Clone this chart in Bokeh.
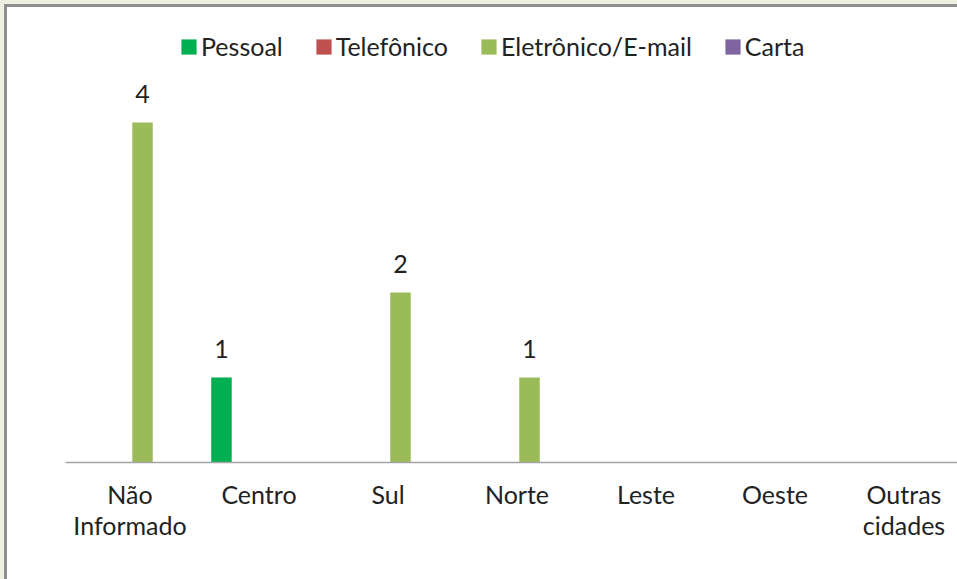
from bokeh.plotting import figure
from bokeh.models import Range1d, FixedTicker, ColumnDataSource, Legend, LegendItem
from bokeh.embed import file_html
from bokeh.resources import INLINE
from bokeh.core.properties import value
import numpy as np

# ---- data ----
categories = ["Não\nInformado", "Centro", "Sul", "Norte", "Leste", "Oeste", "Outras\ncidades"]
series_names = ["Pessoal", "Telefônico", "Eletrônico/E-mail", "Carta"]
pessoal = [0, 1, 0, 0, 0, 0, 0]
telefonico = [0, 0, 0, 0, 0, 0, 0]
eletronico = [4, 0, 2, 1, 0, 0, 0]
carta = [0, 0, 0, 0, 0, 0, 0]
colors = ["#00B050", "#C0504D", "#9BBB59", "#8064A2"]

series_values = [pessoal, telefonico, eletronico, carta]

# ---- layout ----
W, H = 957, 579
left, bottom = 65, 117
px_per_cat = 129.0
px_per_unit = 85.0
frame_w = W - left
frame_h = H - bottom

FONT = "Lato"
FS = "25px"
TXT = "#222222"

p = figure(width=W, height=H, output_backend="svg", toolbar_location=None,
           x_range=Range1d(-0.5, -0.5 + frame_w / px_per_cat),
           y_range=Range1d(0, frame_h / px_per_unit),
           min_border_left=left, min_border_right=0, min_border_top=0,
           min_border_bottom=bottom, y_axis_location=None, title=None)
p.styles = {"background-color": "white",
            "box-shadow": "inset 4px 4px 0 0 #EBF1DE, inset 7px 7px 0 0 #8E8E8E"}
p.outline_line_color = None
p.xgrid.visible = False
p.ygrid.visible = False
p.background_fill_alpha = 0
p.border_fill_alpha = 0

offsets = [-0.291, -0.097, 0.097, 0.291]
bar_w = 0.159
idx = np.arange(len(categories))

items = []
lab_x, lab_y, lab_t = [], [], []
for name, vals, col, off in zip(series_names, series_values, colors, offsets):
    src = ColumnDataSource(dict(x=idx + off, top=vals))
    r = p.vbar(x="x", top="top", width=bar_w, source=src, fill_color=col, line_color=None)
    items.append(LegendItem(label=name, renderers=[r]))
    for xi, v in zip(idx + off, vals):
        if v:
            lab_x.append(xi)
            lab_y.append(v)
            lab_t.append(str(v))

p.text(x=lab_x, y=lab_y, text=lab_t, text_align="center", text_baseline="alphabetic",
       y_offset=-29, text_font=value(FONT), text_font_size=FS, text_color=TXT)

xa = p.xaxis[0]
xa.ticker = FixedTicker(ticks=list(range(len(categories))))
xa.major_label_overrides = {i: c for i, c in enumerate(categories)}
xa.major_tick_line_color = None
xa.minor_tick_line_color = None
xa.axis_line_color = "#A3A3A3"
xa.axis_line_width = 1.5
xa.major_label_text_font = FONT
xa.major_label_text_font_size = FS
xa.major_label_text_color = TXT
xa.major_label_text_line_height = 1.05
xa.major_label_standoff = 10

legend = Legend(items=items, orientation="horizontal", location=(114, 401),
                glyph_width=19, glyph_height=19, label_standoff=3, spacing=31,
                padding=0, margin=0, border_line_color=None, background_fill_alpha=0,
                label_text_font=FONT, label_text_font_size=FS, label_text_color=TXT)
p.add_layout(legend)

open("out.html", "w").write(file_html(p, INLINE))
